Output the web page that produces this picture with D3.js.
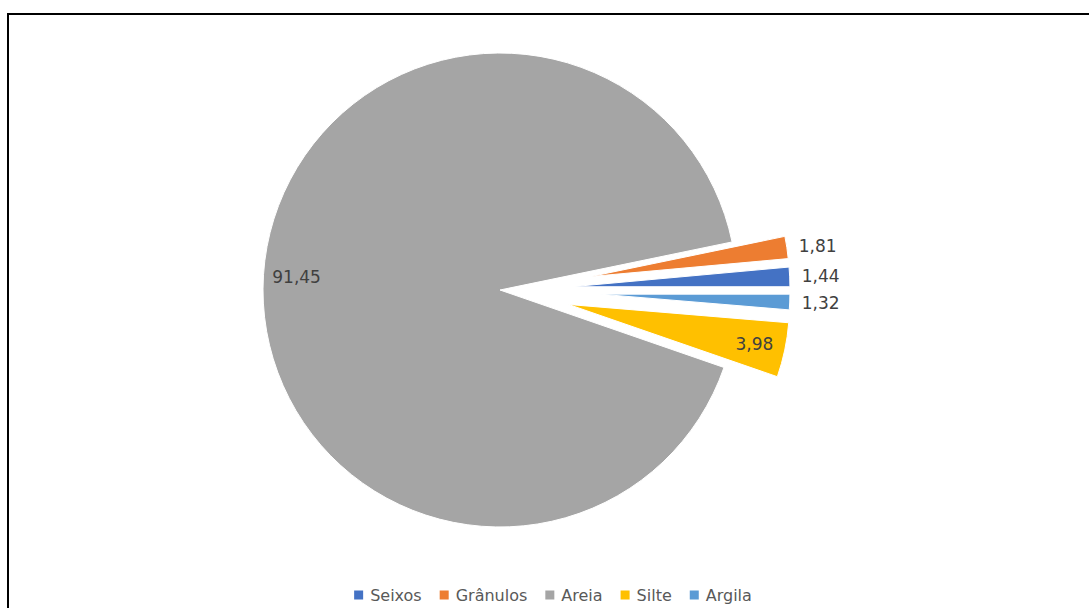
<!DOCTYPE html>
<html>
<head>
<meta charset="utf-8">
<script src="https://cdn.jsdelivr.net/npm/d3@7"></script>
<style>
  body { margin: 0; background: #fff; }
  text { font-family: "DejaVu Sans", sans-serif; }
</style>
</head>
<body>
<div id="vis"></div>
<script>
const categories = ['Seixos', 'Grânulos', 'Areia', 'Silte', 'Argila'];
const values = [1.44, 1.81, 91.45, 3.98, 1.32];
const colors = ['#4472C4', '#ED7D31', '#A5A5A5', '#FFC000', '#5B9BD5'];

// how far each slice is pulled out, and its radius
const explode = [72, 92, 0, 70, 100];
const radius = [218, 198, 237, 221, 190];
const labelInside = [false, false, true, true, false];

const visWidth = 1089;
const visHeight = 608;
const center = {x: 500, y: 290};

const svg = d3.select('#vis').append('svg')
    .attr('width', visWidth)
    .attr('height', visHeight);

// frame
svg.append('rect')
    .attr('x', 8)
    .attr('y', 14)
    .attr('width', 1100)
    .attr('height', 620)
    .attr('fill', 'none')
    .attr('stroke', '#000')
    .attr('stroke-width', 2);

const fmt = d3.formatLocale({decimal: ',', thousands: '.', grouping: [3]}).format('.2f');

// counter-clockwise from 3 o'clock
const pie = d3.pie()
    .sort(null)
    .value(d => d)
    .startAngle(Math.PI / 2)
    .endAngle(Math.PI / 2 - 2 * Math.PI);

const arcs = pie(values);

const arc = d3.arc()
    .innerRadius(0)
    .outerRadius(d => radius[d.index]);

const mid = d => (d.startAngle + d.endAngle) / 2;
const dir = d => [Math.sin(mid(d)), -Math.cos(mid(d))];
const apex = d => {
  const [dx, dy] = dir(d);
  return [center.x + dx * explode[d.index], center.y + dy * explode[d.index]];
};

const g = svg.append('g');

g.selectAll('path')
  .data(arcs)
  .join('path')
    .attr('transform', d => `translate(${apex(d)[0]}, ${apex(d)[1]})`)
    .attr('d', arc)
    .attr('fill', d => colors[d.index])
    .attr('stroke', '#fff')
    .attr('stroke-width', 1);

g.selectAll('text')
  .data(arcs)
  .join('text')
    .attr('x', d => {
      const p = apex(d), v = dir(d);
      const r = labelInside[d.index] ? radius[d.index] * (d.index === 2 ? 0.86 : 0.86) : radius[d.index] + 12;
      return p[0] + v[0] * r;
    })
    .attr('y', d => {
      const p = apex(d), v = dir(d);
      const r = labelInside[d.index] ? radius[d.index] * 0.86 : radius[d.index] + 12;
      return p[1] + v[1] * r;
    })
    .attr('text-anchor', d => labelInside[d.index] ? 'middle' : 'start')
    .attr('dominant-baseline', 'central')
    .attr('font-size', 17)
    .attr('fill', '#404040')
    .text(d => fmt(d.data));

// legend
const legend = svg.append('g');
const items = legend.selectAll('g')
  .data(categories)
  .join('g');

items.append('rect')
    .attr('width', 9)
    .attr('height', 9)
    .attr('y', -4.5)
    .attr('fill', (d, i) => colors[i]);

items.append('text')
    .attr('x', 16)
    .attr('dominant-baseline', 'central')
    .attr('font-size', 16)
    .attr('fill', '#595959')
    .text(d => d);

let xPos = 0;
items.each(function() {
  const w = 16 + d3.select(this).select('text').node().getComputedTextLength();
  d3.select(this).attr('transform', `translate(${xPos}, 0)`);
  xPos += w + 18;
});
const legendWidth = xPos - 18;
legend.attr('transform', `translate(${553 - legendWidth / 2}, 595)`);
</script>
</body>
</html>
